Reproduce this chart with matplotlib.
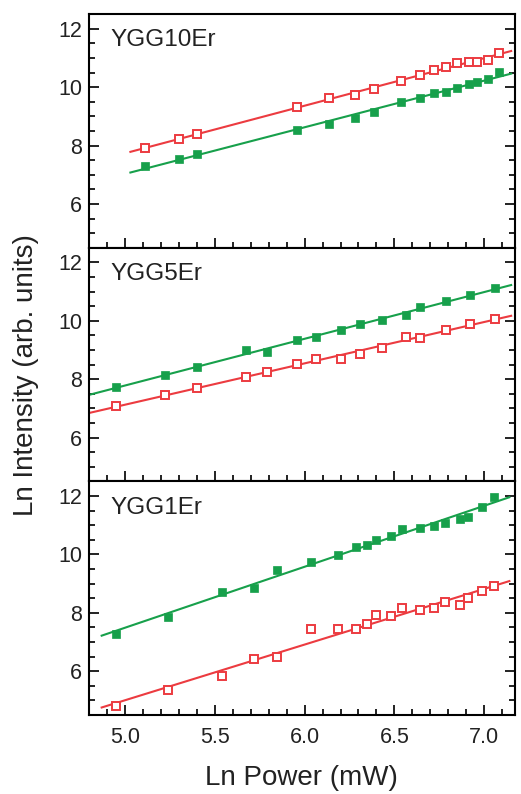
"""
Log-log power dependence of the upconversion emission for three Er-doped YGG samples.
"""

import numpy as np
import matplotlib.pyplot as plt
from matplotlib.ticker import MultipleLocator

plt.rcParams["font.family"] = ["Liberation Sans", "DejaVu Sans"]

RED = "#ec3b40"
GREEN = "#17a04b"

# YGG10Er
ygg10_x = [5.11, 5.30, 5.40, 5.96, 6.135, 6.28, 6.385, 6.535, 6.64, 6.72,
           6.785, 6.85, 6.915, 6.96, 7.02, 7.08]
ygg10_red = [7.93, 8.23, 8.39, 9.32, 9.62, 9.75, 9.94, 10.22, 10.41, 10.58,
             10.71, 10.83, 10.88, 10.88, 10.95, 11.16]
ygg10_green = [7.31, 7.54, 7.70, 8.52, 8.75, 8.96, 9.17, 9.49, 9.64, 9.79,
               9.83, 9.99, 10.12, 10.17, 10.28, 10.53]

# YGG5Er
ygg5_x = [4.95, 5.22, 5.40, 5.675, 5.79, 5.955, 6.065, 6.20, 6.31, 6.43,
          6.565, 6.64, 6.79, 6.92, 7.06]
ygg5_green = [7.72, 8.14, 8.42, 9.01, 8.92, 9.34, 9.45, 9.68, 9.88, 10.04,
              10.21, 10.47, 10.67, 10.87, 11.12]
ygg5_red = [7.09, 7.45, 7.69, 8.09, 8.26, 8.52, 8.68, 8.70, 8.88, 9.06,
            9.45, 9.40, 9.70, 9.90, 10.08]

# YGG1Er
ygg1_x = [4.95, 5.24, 5.54, 5.72, 5.845, 6.035, 6.185, 6.285, 6.35, 6.395,
          6.48, 6.54, 6.64, 6.72, 6.78, 6.865, 6.91, 6.99, 7.055]
ygg1_green = [7.29, 7.84, 8.72, 8.86, 9.47, 9.75, 9.98, 10.26, 10.32, 10.50,
              10.62, 10.88, 10.91, 10.98, 11.07, 11.20, 11.28, 11.63, 11.95]
ygg1_red = [4.80, 5.37, 5.84, 6.41, 6.47, 7.44, 7.46, 7.46, 7.61, 7.93,
            7.89, 8.15, 8.09, 8.15, 8.37, 8.27, 8.50, 8.74, 8.92]

panels = [
    ("YGG10Er", ygg10_x, ygg10_red, ygg10_green, (5.03, 7.15)),
    ("YGG5Er", ygg5_x, ygg5_red, ygg5_green, (4.75, 7.15)),
    ("YGG1Er", ygg1_x, ygg1_red, ygg1_green, (4.87, 7.14)),
]

fig, axes = plt.subplots(3, 1, figsize=(5.21, 7.94), dpi=100, sharex=True)
fig.subplots_adjust(left=0.171, right=0.988, top=0.982, bottom=0.0995, hspace=0)

for ax, (name, x, red, green, fit_range) in zip(axes, panels):
    xf = np.linspace(*fit_range, 50)
    for y, color in ((red, RED), (green, GREEN)):
        k, b = np.polyfit(x, y, 1)
        ax.plot(xf, k * xf + b, color=color, lw=1.5, zorder=2)
    ax.plot(x, red, ls="none", marker="s", ms=6.2, mfc="white", mec=RED,
            mew=1.4, zorder=3)
    ax.plot(x, green, ls="none", marker="s", ms=6.2, mfc=GREEN, mec=GREEN,
            mew=0.5, zorder=3)

    ax.text(0.05, 0.935, name, transform=ax.transAxes, fontsize=17.5,
            va="top", ha="left", color="#222222")

    ax.set_xlim(4.8, 7.17)
    ax.set_ylim(4.5, 12.5)
    ax.xaxis.set_major_locator(MultipleLocator(0.5))
    ax.xaxis.set_minor_locator(MultipleLocator(0.1))
    ax.yaxis.set_major_locator(MultipleLocator(2))
    ax.yaxis.set_minor_locator(MultipleLocator(0.5))
    ax.tick_params(which="both", direction="in", left=True, right=True,
                   top=False, bottom=True, width=1.3, labelsize=15.5,
                   colors="#111111", labelcolor="#222222")
    ax.tick_params(which="major", length=7)
    ax.tick_params(which="minor", length=4)
    ax.tick_params(axis="x", pad=9)
    ax.tick_params(axis="y", pad=5)
    for sp in ax.spines.values():
        sp.set_linewidth(1.5)

axes[-1].xaxis.set_major_formatter(plt.FuncFormatter(lambda v, _: f"{v:.1f}"))
axes[-1].set_xlabel("Ln Power (mW)", fontsize=20, labelpad=12, color="#222222")
fig.supylabel("Ln Intensity (arb. units)", fontsize=20, x=0.025, y=0.528,
              color="#222222")

fig.savefig("out.png", dpi=100)
plt.close(fig)
